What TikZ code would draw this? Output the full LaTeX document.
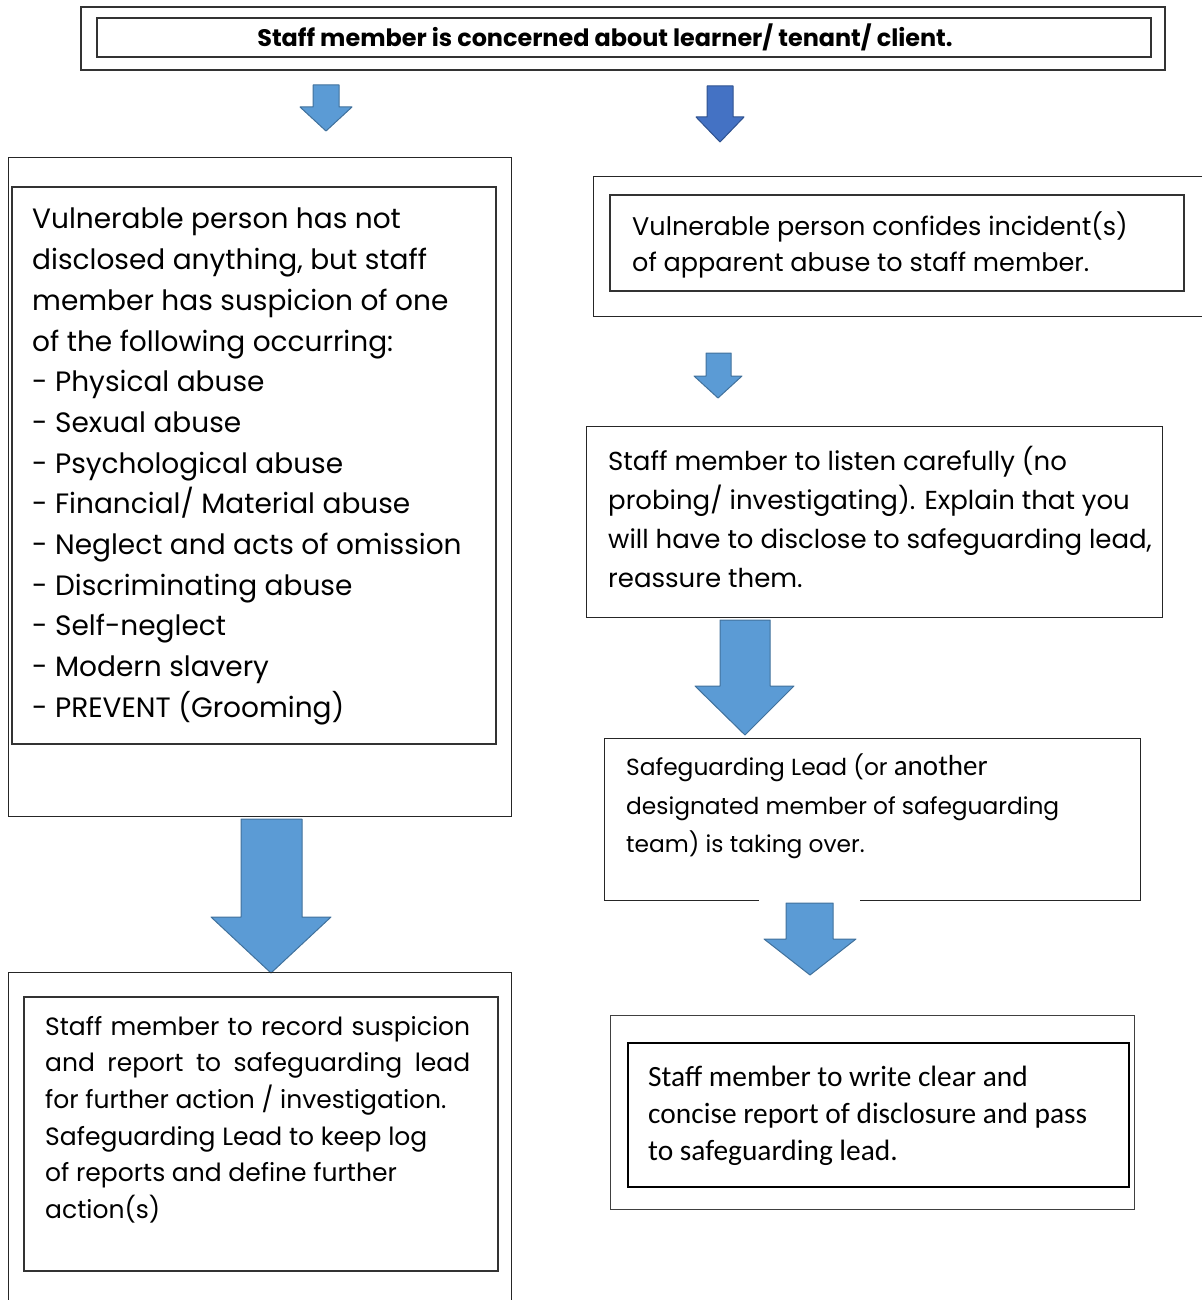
\documentclass[tikz,border=0pt]{standalone}
\usepackage{fontspec}
\setmainfont{Poppins}
\newfontfamily\calibrifont{Carlito}
\usetikzlibrary{positioning}
\definecolor{arrowblue}{HTML}{5B9BD5}
\definecolor{arrowedge}{HTML}{41719C}
\definecolor{arrowdark}{HTML}{4472C4}
\definecolor{arrowdarkedge}{HTML}{2F528F}

\begin{document}
\begin{tikzpicture}[x=1pt,y=1pt,yscale=-1,
    thinframe/.style={draw=black!85, line width=1pt},
    thickframe/.style={draw=black!80, line width=2pt},
    flowtext/.style={anchor=north west, inner sep=0pt, align=left},
    blockarrow/.style={fill=arrowblue, draw=arrowedge, line width=1pt, line join=round},
    darkarrow/.style={fill=arrowdark, draw=arrowdarkedge, line width=1pt, line join=round}]
    \useasboundingbox (0,0) rectangle (1202,1300);

    %Shape: Rectangle [title]
    \draw [thickframe] (81,7) rectangle (1165,70);
    \draw [draw=black!80, line width=1.2pt] (97,18) rectangle (1151,57);
    % Text Node
    \node (title) at (605,37) [inner sep=0pt, font={\fontsize{23.9}{28}\selectfont\bfseries}] {Staff member is concerned about learner/ tenant/ client.};

    %Down Arrows [top]
    \draw [blockarrow] (313,85) -- (339,85) -- (339,107) -- (352,107) -- (326,131) -- (300,107) -- (313,107) -- cycle;
    \draw [darkarrow] (707,86) -- (733,86) -- (733,117) -- (744,117) -- (720,142) -- (696,117) -- (707,117) -- cycle;

    %Shape: Rectangle [left, suspicion]
    \draw [thinframe] (8,158) rectangle (511,816);
    \draw [thickframe] (12,187) rectangle (496,744);
    % Text Node
    \node (suspicion) at (32,208) [flowtext, font={\fontsize{28}{40.7}\selectfont}] {
        Vulnerable person has not\\
        disclosed anything, but staff\\
        member has suspicion of one\\
        of the following occurring:\\
        - Physical abuse\\
        - Sexual abuse\\
        - Psychological abuse\\
        - Financial/ Material abuse\\
        - Neglect and acts of omission\\
        - Discriminating abuse\\
        - Self-neglect\\
        - Modern slavery\\
        - PREVENT (Grooming)};

    %Shape: Rectangle [right, confides]
    \draw [thinframe] (1202,177) -- (593,177) -- (593,316) -- (1202,316);
    \draw [thickframe] (610,195) rectangle (1184,291);
    % Text Node
    \node (confides) at (632,211) [flowtext, font={\fontsize{25.5}{36}\selectfont}] {
        Vulnerable person confides incident(s)\\
        of apparent abuse to staff member.};

    %Down Arrow
    \draw [blockarrow] (706,353) -- (731,353) -- (731,376) -- (742,376) -- (718,398) -- (694,376) -- (706,376) -- cycle;

    %Shape: Rectangle [listen]
    \draw [thinframe] (586,426) rectangle (1162,617);
    % Text Node
    \node (listen) at (608,446) [flowtext, font={\fontsize{26}{39}\selectfont}] {
        Staff member to listen carefully (no\\
        probing/ investigating). Explain that you\\
        will have to disclose to safeguarding lead,\\
        reassure them.};

    %Down Arrow
    \draw [blockarrow] (720,620) -- (770,620) -- (770,686) -- (794,686) -- (745,735) -- (695,686) -- (720,686) -- cycle;

    %Shape: Rectangle [lead takes over]
    \draw [thinframe] (860,900) -- (1140,900) -- (1140,738) -- (604,738) -- (604,900) -- (759,900);
    % Text Node
    \node (leadtakes) at (626,754) [flowtext, font={\fontsize{23.3}{38.5}\selectfont}] {
        Safeguarding Lead (or {\calibrifont\fontsize{29}{38.5}\selectfont another}\\
        designated member of safeguarding\\
        team) is taking over.};

    %Down Arrow
    \draw [blockarrow] (786,903) -- (833,903) -- (833,939) -- (856,939) -- (810,975) -- (764,939) -- (786,939) -- cycle;

    %Down Arrow
    \draw [blockarrow] (241,819) -- (302,819) -- (302,917) -- (331,917) -- (271,973) -- (211,917) -- (241,917) -- cycle;

    %Shape: Rectangle [record]
    \draw [thinframe] (8,1300) -- (8,972) -- (511,972) -- (511,1300);
    \draw [thickframe] (24,997) rectangle (498,1271);
    % Text Node
    \node (recordlog) at (45,1016) [flowtext, font={\fontsize{25}{36.6}\selectfont}] {
        \makebox[425pt][s]{Staff member to record suspicion}\\
        \makebox[425pt][s]{and report to safeguarding lead}\\
        for further action / investigation.\\
        Safeguarding Lead to keep log\\
        of reports and define further\\
        action(s)};

    %Shape: Rectangle [write report]
    \draw [draw=black!75, line width=1pt] (610,1015) rectangle (1134,1209);
    \draw [draw=black, line width=2pt] (628,1043) rectangle (1129,1187);
    % Text Node
    \node (writereport) at (648,1066) [flowtext, font={\calibrifont\fontsize{29.4}{37}\selectfont}] {
        Staff member to write clear and\\
        concise report of disclosure and pass\\
        to safeguarding lead.};

\end{tikzpicture}
\end{document}
